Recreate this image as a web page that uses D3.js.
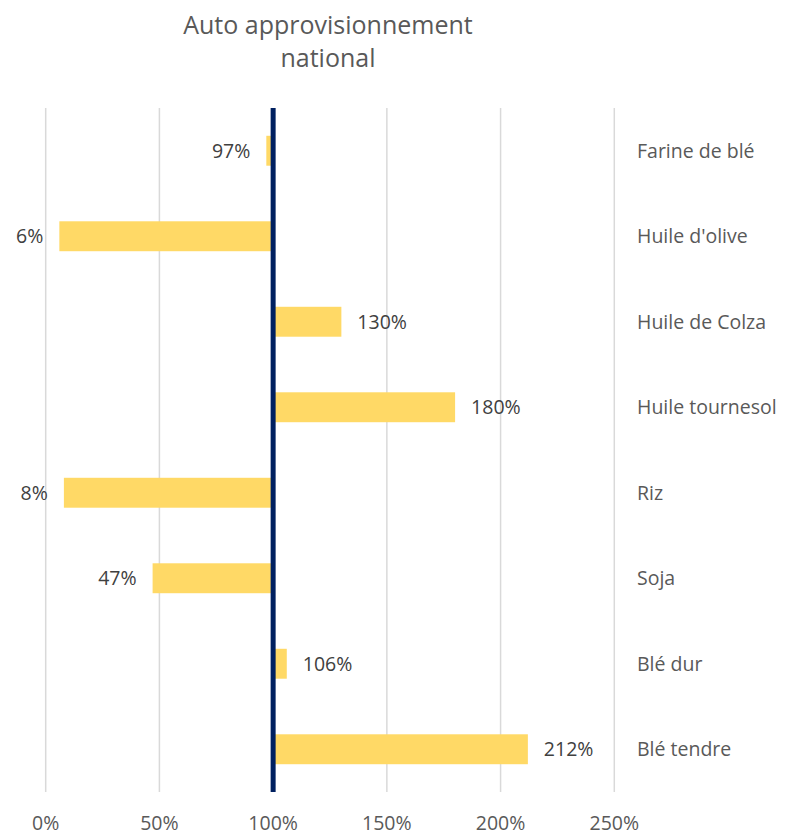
<!DOCTYPE html>
<html>
  <meta charset="utf-8">
  <head>
  <style>
    body {
      margin: 0;
      background: #fff;
    }
    text {
      font-family: "Open Sans", "Noto Sans", sans-serif;
    }
  </style>
  </head>
  <body>
    <div id="chart"></div>

    <script src="https://d3js.org/d3.v7.min.js"></script>
    <script>

    'use strict';

    // data
    var categories = ['Farine de blé', "Huile d'olive", 'Huile de Colza', 'Huile tournesol',
                      'Riz', 'Soja', 'Blé dur', 'Blé tendre'];
    var values = [0.97, 0.06, 1.30, 1.80, 0.08, 0.47, 1.06, 2.12];
    var ticks = [0, 0.5, 1, 1.5, 2, 2.5];
    var title = ['Auto approvisionnement', 'national'];

    var width = 795,
        height = 835;

    var x = d3.scaleLinear()
              .domain([0, 2.5])
              .range([45.7, 614.3]);

    var y = d3.scaleBand()
              .domain(categories)
              .range([108, 792])
              .paddingInner(0.65)
              .paddingOuter(0.325);

    var pct = d3.format('.0%');

    var svg = d3.select('#chart')
      .append('svg')
        .attr('width', width)
        .attr('height', height);

    // title
    svg.append('g')
      .selectAll('text')
      .data(title)
      .enter().append('text')
        .attr('x', 328)
        .attr('y', (d, i) => 34 + i * 33)
        .attr('text-anchor', 'middle')
        .attr('fill', '#595959')
        .style('font-size', '25px')
        .text(d => d);

    // vertical grid
    svg.append('g')
      .selectAll('line')
      .data(ticks)
      .enter().append('line')
        .attr('x1', d => x(d))
        .attr('x2', d => x(d))
        .attr('y1', y.range()[0])
        .attr('y2', y.range()[1])
        .attr('stroke', '#d9d9d9')
        .attr('stroke-width', 1.5);

    // tick labels
    svg.append('g')
      .selectAll('text')
      .data(ticks)
      .enter().append('text')
        .attr('x', d => x(d))
        .attr('y', 830)
        .attr('text-anchor', 'middle')
        .attr('fill', '#595959')
        .style('font-size', '19.5px')
        .text(d => pct(d));

    var rows = categories.map((c, i) => ({cat: c, v: values[i]}));

    // bars from the 100% baseline
    svg.append('g')
      .selectAll('rect')
      .data(rows)
      .enter().append('rect')
        .attr('x', d => x(Math.min(1, d.v)))
        .attr('y', d => y(d.cat))
        .attr('width', d => Math.abs(x(d.v) - x(1)))
        .attr('height', y.bandwidth())
        .attr('fill', '#ffd966');

    // value labels
    svg.append('g')
      .selectAll('text')
      .data(rows)
      .enter().append('text')
        .attr('x', d => d.v < 1 ? x(d.v) - 16 : x(d.v) + 16)
        .attr('y', d => y(d.cat) + y.bandwidth() / 2)
        .attr('dy', '0.35em')
        .attr('text-anchor', d => d.v < 1 ? 'end' : 'start')
        .attr('fill', '#404040')
        .style('font-size', '19.5px')
        .text(d => pct(d.v));

    // category labels
    svg.append('g')
      .selectAll('text')
      .data(rows)
      .enter().append('text')
        .attr('x', 637)
        .attr('y', d => y(d.cat) + y.bandwidth() / 2)
        .attr('dy', '0.35em')
        .attr('fill', '#595959')
        .style('font-size', '19.5px')
        .text(d => d.cat);

    // 100% axis line
    svg.append('line')
        .attr('x1', x(1))
        .attr('x2', x(1))
        .attr('y1', y.range()[0])
        .attr('y2', y.range()[1])
        .attr('stroke', '#002060')
        .attr('stroke-width', 5);

    </script>
  </body>
</html>
